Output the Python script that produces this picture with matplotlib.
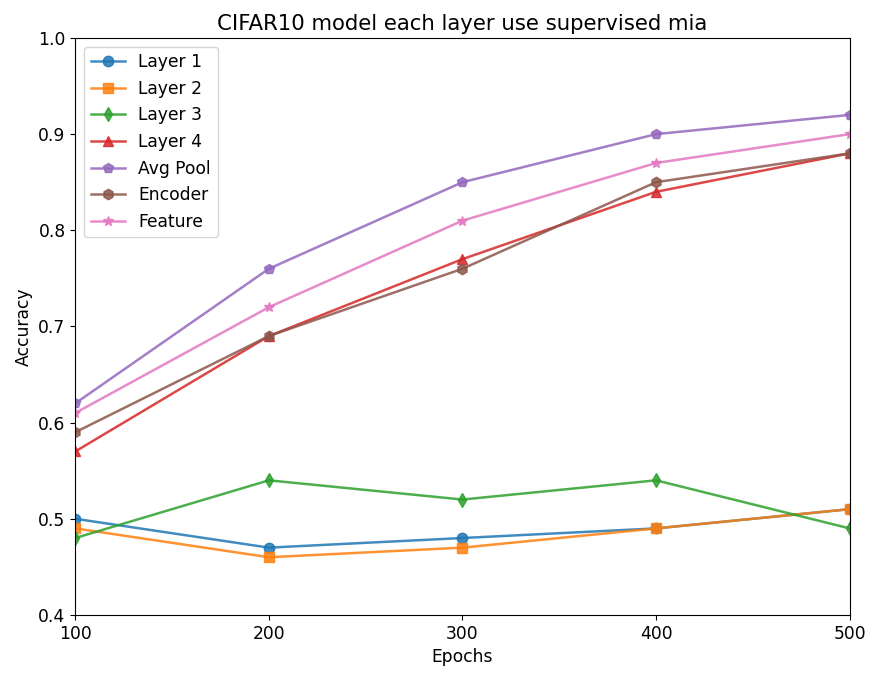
import matplotlib
matplotlib.use("Agg")
import matplotlib.pyplot as plt

epochs = [100, 200, 300, 400, 500]
layer1 = [0.50, 0.47, 0.48, 0.49, 0.51]
layer2 = [0.49, 0.46, 0.47, 0.49, 0.51]
layer3 = [0.48, 0.54, 0.52, 0.54, 0.49]
layer4 = [0.57, 0.69, 0.77, 0.84, 0.88]
avg_pool = [0.62, 0.76, 0.85, 0.90, 0.92]
encoder = [0.59, 0.69, 0.76, 0.85, 0.88]
feature = [0.61, 0.72, 0.81, 0.87, 0.90]

series = [
    ("Layer 1", layer1, "o"),
    ("Layer 2", layer2, "s"),
    ("Layer 3", layer3, "d"),
    ("Layer 4", layer4, "^"),
    ("Avg Pool", avg_pool, "p"),
    ("Encoder", encoder, "h"),
    ("Feature", feature, "*"),
]

plt.rcParams["font.size"] = 12.3
fig = plt.figure(figsize=(8.75, 6.78), dpi=100)
ax = fig.add_axes([0.086, 0.093, 0.885, 0.851])
for name, vals, m in series:
    ax.plot(epochs, vals, marker=m, label=name, alpha=0.85, linewidth=1.8, markersize=7.5)
ax.set_xlim(100, 500)
ax.set_ylim(0.4, 1.0)
ax.set_xticks(epochs)
ax.tick_params(labelsize=12.3)
ax.set_xlabel("Epochs", fontsize=12.3)
ax.set_ylabel("Accuracy", fontsize=12.3)
ax.set_title("CIFAR10 model each layer use supervised mia", fontsize=15.3)
ax.legend(loc="upper left", fontsize=12.3)
fig.savefig("out.png", dpi=100)
